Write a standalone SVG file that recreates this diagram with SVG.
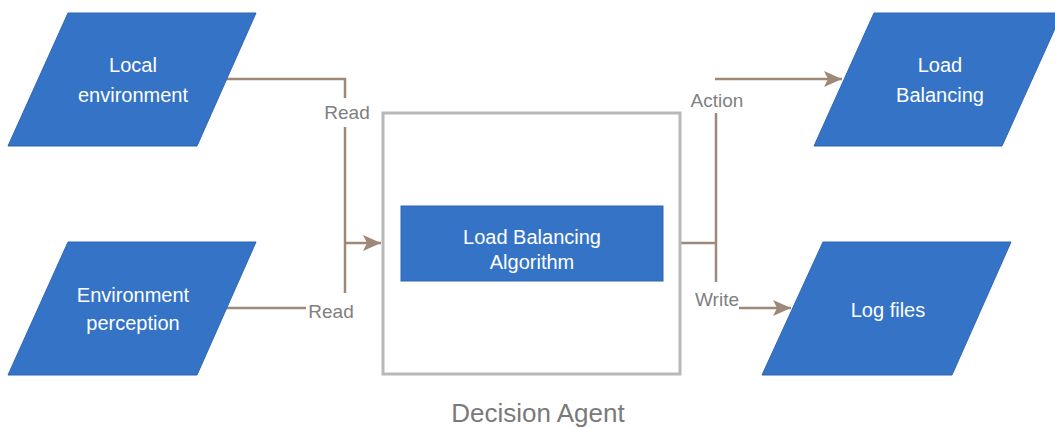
<svg xmlns="http://www.w3.org/2000/svg" width="1055" height="428" viewBox="0 0 1055 428">
<style>
.io{fill:#3473C6;stroke:#2f67b3;stroke-width:1}
.wt{fill:#ffffff;font-family:"Liberation Sans",Arial,sans-serif;font-size:20px;text-anchor:middle}
.lbl{fill:#808080;font-family:"Liberation Sans",Arial,sans-serif;font-size:19px}
.con{fill:none;stroke:#9e8878;stroke-width:2.5}
</style>
<defs>
<marker id="ah" markerWidth="8" markerHeight="8" refX="7" refY="4" orient="auto" markerUnits="userSpaceOnUse" viewBox="0 0 8 8">
<path d="M0,0 L8,4 L0,8 Z" fill="#9e8878"/>
</marker>
<marker id="arr" markerWidth="18" markerHeight="16" refX="18" refY="8" orient="auto" markerUnits="userSpaceOnUse">
<path d="M0,0 L18,8 L0,16 L4,8 Z" fill="#9e8878"/>
</marker>
</defs>
<rect width="1055" height="428" fill="#ffffff"/>
<g id="connectors">
<polyline class="con" points="224,79 345,79 345,98"/>
<polyline class="con" points="345,127 345,293"/>
<line class="con" x1="345" y1="243" x2="381" y2="243" marker-end="url(#arr)"/>
<line class="con" x1="224" y1="308" x2="306" y2="308"/>
<line class="con" x1="680" y1="243" x2="716" y2="243"/>
<polyline class="con" points="716,282 716,113"/>
<line class="con" x1="715" y1="79" x2="842" y2="79" marker-end="url(#arr)"/>
<line class="con" x1="739" y1="308" x2="791" y2="308" marker-end="url(#arr)"/>
<text class="lbl" x="347" y="119" text-anchor="middle">Read</text>
<text class="lbl" x="331" y="318" text-anchor="middle">Read</text>
<text class="lbl" x="717" y="107" text-anchor="middle">Action</text>
<text class="lbl" x="717" y="306" text-anchor="middle">Write</text>
</g>
<g id="local-environment">
<polygon class="io" points="68,13 256,13 197,146 8,146"/>
<text class="wt" x="133" y="72">Local</text>
<text class="wt" x="133" y="102">environment</text>
</g>
<g id="environment-perception">
<polygon class="io" points="68,242 256,242 197,375 8,375"/>
<text class="wt" x="133" y="302">Environment</text>
<text class="wt" x="133" y="330">perception</text>
</g>
<g id="decision-agent">
<rect x="383" y="113" width="297" height="261" fill="#ffffff" stroke="#b8b8b8" stroke-width="3"/>
<text x="538" y="422" fill="#7a7a7a" font-family="'Liberation Sans',Arial,sans-serif" font-size="26" text-anchor="middle">Decision Agent</text>
</g>
<g id="load-balancing-algorithm">
<rect x="401" y="206" width="262" height="75" fill="#3473C6" stroke="#2f67b3" stroke-width="1"/>
<text class="wt" x="532" y="244">Load Balancing</text>
<text class="wt" x="532" y="269">Algorithm</text>
</g>
<g id="load-balancing">
<polygon class="io" points="874,13 1062,13 1002,146 814,146"/>
<text class="wt" x="940" y="72">Load</text>
<text class="wt" x="940" y="102">Balancing</text>
</g>
<g id="log-files">
<polygon class="io" points="823,242 1011,242 952,375 762,375"/>
<text class="wt" x="888" y="317">Log files</text>
</g>
</svg>
